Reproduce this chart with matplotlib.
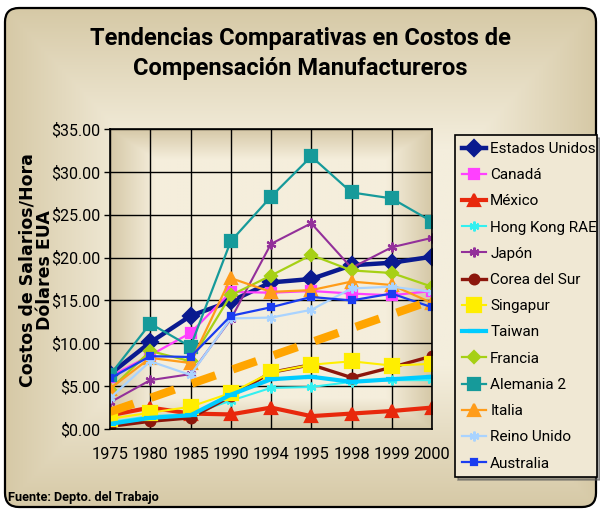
import numpy as np
import matplotlib
matplotlib.use("Agg")
import matplotlib.pyplot as plt
from matplotlib.patches import FancyBboxPatch
from matplotlib.colors import to_rgb

years = ['1975', '1980', '1985', '1990', '1994', '1995', '1998', '1999', '2000']
estados_unidos = [6.4, 10.1, 13.2, 14.9, 17.1, 17.5, 19.1, 19.4, 20.1]
canada = [6.1, 8.6, 11.2, 16.0, 15.9, 16.1, 15.8, 15.6, 16.1]
mexico = [1.6, 2.5, 1.8, 1.7, 2.5, 1.5, 1.8, 2.1, 2.5]
hong_kong = [0.8, 1.5, 1.7, 3.3, 4.8, 4.9, 5.5, 5.7, 5.7]
japon = [3.1, 5.7, 6.4, 12.8, 21.6, 24.0, 18.8, 21.2, 22.3]
corea = [0.3, 0.9, 1.3, 3.8, 6.6, 7.5, 6.0, 7.2, 8.5]
singapur = [1.2, 1.9, 2.6, 4.2, 6.6, 7.5, 7.9, 7.4, 7.6]
taiwan = [0.6, 1.3, 1.6, 4.0, 5.8, 6.1, 5.5, 5.8, 6.1]
francia = [4.6, 9.1, 7.9, 15.6, 17.9, 20.3, 18.5, 18.2, 16.6]
alemania = [6.3, 12.3, 9.6, 21.9, 27.1, 31.8, 27.6, 26.9, 24.2]
italia = [4.7, 8.3, 7.7, 17.6, 16.0, 16.2, 17.2, 16.8, 14.7]
reino_unido = [3.6, 7.9, 6.3, 12.9, 13.0, 13.9, 16.4, 16.6, 16.0]
australia = [5.9, 8.5, 8.4, 13.2, 14.2, 15.4, 15.0, 15.8, 14.2]
tendencia = [2.0, 15.0]   # trend line at first and last year
yticks = [0, 5, 10, 15, 20, 25, 30, 35]

series = [
    ('Estados Unidos', estados_unidos, '#0a1a8f', 3.2, 'D', 8),
    ('Canadá', canada, '#ff40ff', 1.6, 's', 7),
    ('México', mexico, '#e8280c', 3.0, '^', 9),
    ('Hong Kong RAE', hong_kong, '#33f0f0', 1.5, (6, 2, 0), 7),
    ('Japón', japon, '#93309a', 1.5, (6, 2, 0), 7),
    ('Corea del Sur', corea, '#8c160c', 2.4, 'o', 7),
    ('Singapur', singapur, '#ffee00', 1.5, 's', 10),
    ('Taiwan', taiwan, '#00ccff', 3.0, '_', 9),
    ('Francia', francia, '#a6d015', 1.6, 'D', 6),
    ('Alemania 2', alemania, '#169a9a', 1.6, 's', 8),
    ('Italia', italia, '#ff9c1a', 1.6, '^', 8),
    ('Reino Unido', reino_unido, '#a9d3ff', 1.6, (6, 2, 0), 7),
    ('Australia', australia, '#1a3cf0', 1.6, 's', 4),
]

NARROW = ['Roboto', 'DejaVu Sans']
plt.rcParams['font.family'] = ['DejaVu Sans']

W, H = 600, 511
fig = plt.figure(figsize=(W / 100, H / 100), dpi=100)
fig.patch.set_facecolor('white')


def rect_gradient(nx, ny, edge, center, frac_x, frac_y):
    xg = np.linspace(0, 1, nx)
    yg = np.linspace(0, 1, ny)
    X, Y = np.meshgrid(xg, yg)
    dx = np.minimum(X, 1 - X) / frac_x
    dy = np.minimum(Y, 1 - Y) / frac_y
    t = np.clip(np.minimum(dx, dy), 0, 1)
    e = np.array(to_rgb(edge))
    c = np.array(to_rgb(center))
    return e[None, None, :] + (c - e)[None, None, :] * t[..., None]


# Background panel
bg = fig.add_axes([0, 0, 1, 1], zorder=-10)
bg.set_xlim(0, W)
bg.set_ylim(H, 0)
bg.axis('off')
grad = rect_gradient(300, 256, '#d6c9a6', '#f4eedd', 0.22, 0.28)
im = bg.imshow(grad, extent=(5, 596, 507, 8), aspect='auto', zorder=0)
frame = FancyBboxPatch((5, 8), 591, 499, boxstyle='round,pad=0,rounding_size=14',
                       facecolor='none', edgecolor='black', linewidth=1.6, zorder=2)
bg.add_patch(frame)
im.set_clip_path(frame)

# Main axes
left, right, top, bottom = 110, 432, 129, 429
ax = fig.add_axes([left / W, 1 - bottom / H, (right - left) / W, (bottom - top) / H])
pg = rect_gradient(200, 200, '#d6c9a8', '#f5eedc', 0.14, 0.10)
ax.imshow(pg, extent=(0, len(years) - 1, 0, 35), aspect='auto', zorder=0)

x = np.arange(len(years))
for name, vals, col, lw, mk, ms in series:
    ax.plot(x, vals, color=col, lw=lw, marker=mk, markersize=ms,
            markeredgecolor=col, markerfacecolor=col,
            markeredgewidth=1.6 if mk != '_' else 3.0,
            label=name, zorder=3, solid_joinstyle='round')

ax.plot([x[0], x[-1]], tendencia, color='#ffa500', lw=6,
        linestyle=(0, (3.0, 2.2)), dash_capstyle='butt', zorder=4)

ax.set_xlim(0, len(years) - 1)
ax.set_ylim(0, 35)
ax.set_xticks(x)
ax.set_xticklabels(years, family=NARROW, fontsize=11.8)
ax.set_yticks(yticks)
ax.set_yticklabels(['${:.2f}'.format(v) for v in yticks], family=NARROW, fontsize=11.5)
ax.grid(True, color='black', linewidth=1.0, zorder=1)
ax.set_axisbelow(False)
for sp in ax.spines.values():
    sp.set_color('black')
    sp.set_linewidth(1.2)
    sp.set_zorder(5)
ax.tick_params(axis='y', direction='out', length=4, width=1, pad=3)
ax.tick_params(axis='x', direction='out', length=0, width=1, pad=13)
for gl in ax.get_xgridlines() + ax.get_ygridlines():
    gl.set_zorder(1)

# Title
fig.text(0.5, 1 - 38 / H, 'Tendencias Comparativas en Costos de',
         ha='center', va='center', fontsize=17, fontweight='bold', family=NARROW)
fig.text(0.5, 1 - 69 / H, 'Compensación Manufactureros',
         ha='center', va='center', fontsize=17, fontweight='bold', family=NARROW)

# Y label
fig.text(27.5 / W, 1 - 270 / H, 'Costos de Salarios/Hora', rotation=90,
         ha='center', va='center', fontsize=12.5, fontweight='bold')
fig.text(44.5 / W, 1 - 270 / H, 'Dólares EUA', rotation=90,
         ha='center', va='center', fontsize=12.5, fontweight='bold')

# Footer
fig.text(8 / W, 1 - 497 / H, 'Fuente: Depto. del Trabajo', ha='left',
         va='center', fontsize=9.2, fontweight='bold', family=NARROW)

# Legend
leg = fig.legend(loc='upper left',
                 bbox_to_anchor=(455 / W, 1 - 472 / H, 142 / W, 337 / H),
                 mode='expand',
                 frameon=True, fancybox=False, shadow={'color': '#555555'},
                 facecolor='#f0e8d4', edgecolor='black', framealpha=1,
                 labelspacing=0.8, handlelength=1.55,
                 handletextpad=0.3, borderpad=0.45, borderaxespad=0,
                 prop={'size': 11, 'family': NARROW})
leg.get_frame().set_linewidth(1.2)

fig.savefig('out.png', dpi=100)
